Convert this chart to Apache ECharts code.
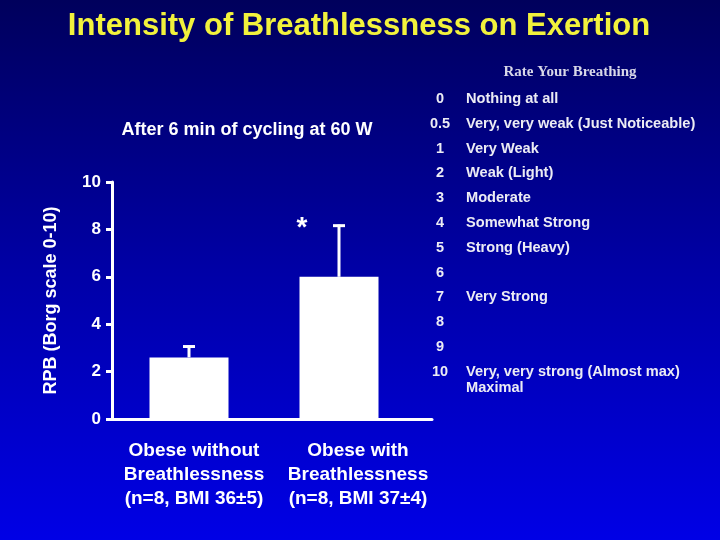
<!DOCTYPE html>
<html>
<head>
<meta charset="utf-8">
<script src="https://cdn.jsdelivr.net/npm/echarts@6/dist/echarts.min.js"></script>
<style>html,body{margin:0;padding:0;}#c{width:720px;height:540px;}</style>
</head>
<body>
<div id="c"></div>
<script>
// ---- data ----
const categories = [
  'Obese without\nBreathlessness\n(n=8, BMI 36±5)',
  'Obese with\nBreathlessness\n(n=8, BMI 37±4)'
];
const meanRPB = [2.6, 6.0];
const errRPB = [0.5, 2.2];
const significance = ['', '*'];
const yMin = 0, yMax = 10, yInterval = 2;
const borgLevels = ['0', '0.5', '1', '2', '3', '4', '5', '6', '7', '8', '9', '10'];
const borgDescriptors = [
  'Nothing at all',
  'Very, very weak (Just Noticeable)',
  'Very Weak',
  'Weak (Light)',
  'Moderate',
  'Somewhat Strong',
  'Strong (Heavy)',
  '',
  'Very Strong',
  '',
  '',
  'Very, very strong (Almost max)\nMaximal'
];
const titleText = 'Intensity of Breathlessness on Exertion';
const subtitleText = 'After 6 min of cycling at 60 W';
const yAxisName = 'RPB (Borg scale 0-10)';
const scaleTitle = 'Rate Your Breathing';

// ---- chart ----
const chart = echarts.init(document.getElementById('c'), null, {renderer: 'canvas'});
const FONT = 'Liberation Sans, Arial, sans-serif';
const white = '#ffffff';

const gridTop = 182, gridBottom = 121;

const graphics = [
  {type: 'text', x: 359, y: 26, style: {text: titleText, font: 'bold 31px ' + FONT, fill: '#f2f23c', textAlign: 'center', textVerticalAlign: 'middle'}},
  {type: 'text', x: 247, y: 130, style: {text: subtitleText, font: 'bold 18px ' + FONT, fill: white, textAlign: 'center', textVerticalAlign: 'middle'}},
  {type: 'text', x: 570, y: 72, style: {text: scaleTitle, font: 'bold 15px Liberation Serif, Times New Roman, serif', fill: '#d8d8e8', textAlign: 'center', textVerticalAlign: 'middle'}}
];
const rowStart = 99, rowStep = 24.8;
borgLevels.forEach(function (lv, i) {
  const cy = rowStart + i * rowStep;
  graphics.push({type: 'text', x: 440, y: cy, style: {text: lv, font: 'bold 14.5px ' + FONT, fill: '#ececf4', textAlign: 'center', textVerticalAlign: 'middle'}});
  if (borgDescriptors[i]) {
    graphics.push({type: 'text', x: 466, y: cy - 8, style: {text: borgDescriptors[i], font: 'bold 14.6px ' + FONT, fill: '#ececf4', textAlign: 'left', textVerticalAlign: 'top', lineHeight: 16}});
  }
});

const option = {
  backgroundColor: {
    type: 'linear', x: 0, y: 0, x2: 0, y2: 1,
    colorStops: [
      {offset: 0, color: '#00005c'},
      {offset: 0.5, color: '#0000a6'},
      {offset: 1, color: '#0000e6'}
    ]
  },
  animation: false,
  textStyle: {fontFamily: FONT},
  graphic: graphics,
  grid: [
    {left: 112, width: 320, top: gridTop, bottom: gridBottom},   // axes
    {left: 114, width: 300, top: gridTop, bottom: gridBottom},   // bars
    {left: 112, width: 328, top: gridTop, bottom: gridBottom}    // category labels
  ],
  xAxis: [
    {gridIndex: 0, type: 'category', data: categories, axisLine: {lineStyle: {color: white, width: 3}}, axisTick: {show: false}, axisLabel: {show: false}},
    {gridIndex: 1, type: 'category', data: categories, show: false},
    {gridIndex: 2, type: 'category', data: categories, axisLine: {show: false}, axisTick: {show: false},
      axisLabel: {color: white, fontWeight: 'bold', fontSize: 19, lineHeight: 24, margin: 20, interval: 0, fontFamily: FONT}}
  ],
  yAxis: [
    {gridIndex: 0, type: 'value', min: yMin, max: yMax, interval: yInterval,
      name: yAxisName, nameLocation: 'middle', nameGap: 52,
      nameTextStyle: {color: white, fontWeight: 'bold', fontSize: 18, fontFamily: FONT},
      axisLine: {show: true, lineStyle: {color: white, width: 3}},
      axisTick: {show: true, length: 6, lineStyle: {color: white, width: 3}},
      axisLabel: {color: white, fontWeight: 'bold', fontSize: 17, margin: 11, fontFamily: FONT},
      splitLine: {show: false}},
    {gridIndex: 1, type: 'value', min: yMin, max: yMax, interval: yInterval, show: false, splitLine: {show: false}},
    {gridIndex: 2, type: 'value', min: yMin, max: yMax, interval: yInterval, show: false, splitLine: {show: false}}
  ],
  series: [
    {
      type: 'bar', xAxisIndex: 1, yAxisIndex: 1, data: meanRPB, barWidth: 79,
      itemStyle: {color: white}, silent: true
    },
    {
      type: 'custom', xAxisIndex: 1, yAxisIndex: 1, silent: true,
      data: meanRPB.map(function (m, i) { return [i, m, errRPB[i]]; }),
      renderItem: function (params, api) {
        const i = api.value(0), m = api.value(1), e = api.value(2);
        const base = api.coord([i, m]);
        const top = api.coord([i, m + e]);
        const children = [
          {type: 'line', shape: {x1: base[0], y1: base[1], x2: top[0], y2: top[1]}, style: {stroke: white, lineWidth: 3}},
          {type: 'line', shape: {x1: top[0] - 6, y1: top[1] + 1, x2: top[0] + 6, y2: top[1] + 1}, style: {stroke: white, lineWidth: 3}}
        ];
        if (significance[params.dataIndex]) {
          children.push({type: 'text', x: top[0] - 37, y: top[1] + 4,
            style: {text: significance[params.dataIndex], font: 'bold 28px ' + FONT, fill: white, textAlign: 'center', textVerticalAlign: 'middle'}});
        }
        return {type: 'group', children: children};
      },
      z: 3
    }
  ]
};
chart.setOption(option);
</script>
</body>
</html>
